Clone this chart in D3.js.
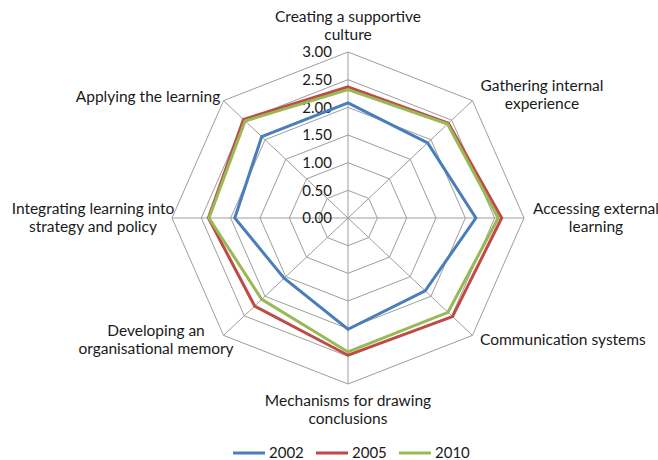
<!DOCTYPE html>
<html>
<head>
<meta charset="utf-8">
<script src="https://cdnjs.cloudflare.com/ajax/libs/d3/7.8.5/d3.min.js"></script>
<style>
	body { margin: 0; background: #ffffff; }
	text { font-family: Lato, "Open Sans", sans-serif; fill: #1a1a1a; }
</style>
</head>
<body>
<script>

// categories, clockwise from the top
var categories = [
	["Creating a supportive", "culture"],
	["Gathering internal", "experience"],
	["Accessing external", "learning"],
	["Communication systems"],
	["Mechanisms for drawing", "conclusions"],
	["Developing an", "organisational memory"],
	["Integrating learning into", "strategy and policy"],
	["Applying the learning"]
];

var years = ["2002", "2005", "2010"];

// scores per year
var values2002 = [2.08, 1.92, 2.18, 1.86, 2.01, 1.54, 1.93, 2.08];
var values2005 = [2.37, 2.42, 2.62, 2.52, 2.48, 2.25, 2.38, 2.52];
var values2010 = [2.32, 2.40, 2.56, 2.41, 2.42, 2.08, 2.37, 2.48];

var tickValues = [0, 0.5, 1, 1.5, 2, 2.5, 3];

var colors = ["#4a7ebb", "#be4b48", "#98b954"];

window.onload = function() {

	var w = 658
	var h = 460
	var cx = 348
	var cy = 218

	var svg = d3.select("body")
		.append("svg")
		.attr("width", w)
		.attr("height", h);

	// radial scales (picture is a bit wider than tall)
	var scaleRX = d3.scaleLinear().domain([0, 3]).range([0, 176]);
	var scaleRY = d3.scaleLinear().domain([0, 3]).range([0, 166]);

	// angle for each category, 0 = up
	var scaleAngle = d3.scaleLinear()
		.domain([0, categories.length])
		.range([0, 2 * Math.PI]);

	function px(i, v) {
		return cx + Math.sin(scaleAngle(i)) * scaleRX(v);
	}
	function py(i, v) {
		return cy - Math.cos(scaleAngle(i)) * scaleRY(v);
	}

	var idx = d3.range(categories.length);

	// grid rings
	svg.selectAll(".ring")
		.data(tickValues.slice(1))
		.enter()
		.append("polygon")
		.attr("class", "ring")
		.attr("points", function(t) {
			return idx.map(function(i) { return px(i, t) + "," + py(i, t); }).join(" ");
		})
		.attr("fill", "none")
		.attr("stroke", "#9e9e9e")
		.attr("stroke-width", 1);

	// spokes
	svg.selectAll(".spoke")
		.data(idx)
		.enter()
		.append("line")
		.attr("class", "spoke")
		.attr("x1", cx)
		.attr("y1", cy)
		.attr("x2", function(i) { return px(i, 3); })
		.attr("y2", function(i) { return py(i, 3); })
		.attr("stroke", "#9e9e9e")
		.attr("stroke-width", 1);

	// tick labels along the top axis
	svg.selectAll(".tick")
		.data(tickValues)
		.enter()
		.append("text")
		.attr("class", "tick")
		.attr("x", cx - 16)
		.attr("y", function(t) { return cy - scaleRY(t); })
		.attr("dy", "0.35em")
		.style("text-anchor", "end")
		.style("font-size", "15px")
		.text(function(t) { return d3.format(".2f")(t); });

	// series
	var series = [values2002, values2005, values2010];
	var line = d3.line()
		.x(function(d, i) { return px(i, d); })
		.y(function(d, i) { return py(i, d); })
		.curve(d3.curveLinearClosed);

	svg.selectAll(".series")
		.data(series)
		.enter()
		.append("path")
		.attr("class", "series")
		.attr("d", line)
		.attr("fill", "none")
		.attr("stroke", function(d, i) { return colors[i]; })
		.attr("stroke-width", 3)
		.attr("stroke-linejoin", "miter");

	// category labels: [x, y of first line, anchor]
	var labelPos = [
		[348, 22, "middle"],
		[542, 91, "middle"],
		[596, 214, "middle"],
		[480, 345, "start"],
		[348, 406, "middle"],
		[156, 336, "middle"],
		[93, 214, "middle"],
		[148, 102, "middle"]
	];

	var labels = svg.selectAll(".catLabel")
		.data(categories)
		.enter()
		.append("text")
		.attr("class", "catLabel")
		.style("font-size", "15.5px")
		.style("text-anchor", function(d, i) { return labelPos[i][2]; });

	labels.selectAll("tspan")
		.data(function(d, i) { return d.map(function(s) { return {s: s, i: i}; }); })
		.enter()
		.append("tspan")
		.attr("x", function(d) { return labelPos[d.i][0]; })
		.attr("y", function(d, j) { return labelPos[d.i][1] + j * 17.5; })
		.text(function(d) { return d.s; });

	// legend
	var legendX = [233, 316, 399];
	var legend = svg.selectAll(".legend")
		.data(years)
		.enter()
		.append("g")
		.attr("class", "legend")
		.attr("transform", function(d, i) { return "translate(" + legendX[i] + ",453)"; });

	legend.append("line")
		.attr("x1", 0)
		.attr("x2", 32)
		.attr("stroke", function(d, i) { return colors[i]; })
		.attr("stroke-width", 3);

	legend.append("text")
		.attr("x", 36)
		.attr("dy", "0.35em")
		.style("font-size", "15px")
		.text(function(d) { return d; });
};
</script>
</body>
</html>
